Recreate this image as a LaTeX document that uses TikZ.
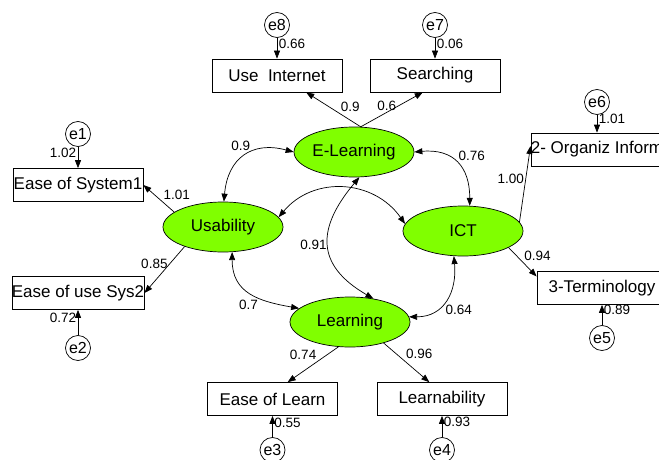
\documentclass[tikz,border=0pt]{standalone}
\usepackage{fontspec}
\setmainfont{Liberation Sans}
\usetikzlibrary{arrows.meta,shapes.geometric}
\definecolor{latentgreen}{RGB}{128,255,0}
\tikzset{latent/.style={ellipse,draw,fill=latentgreen,minimum width=120pt,
  minimum height=50pt,inner sep=0pt,font=\fontsize{17}{20}\selectfont},
 observed/.style={draw,minimum width=130pt,minimum height=33pt,inner sep=0pt,
  font=\fontsize{17}{20}\selectfont},
 errterm/.style={circle,draw,minimum size=25pt,inner sep=0pt,
  font=\fontsize{16}{18}\selectfont},
 regr/.style={-{Triangle[length=8pt,width=6pt]}},
 covar/.style={{Triangle[length=8pt,width=6pt]}-{Triangle[length=8pt,width=6pt]}},
 coef/.style={font=\fontsize{13.5}{16}\selectfont,inner sep=1.5pt}}

\begin{document}
\begin{tikzpicture}[x=1pt,y=1pt,line width=.7pt]
\useasboundingbox (0,0) rectangle (659,459);
% latent variables
\node[latent] (elearn) at (354,307) {E-Learning};
\node[latent] (usab) at (223,232) {Usability};
\node[latent] (ict) at (463,228) {ICT};
\node[latent] (learn) at (350,137) {Learning};
% measured variables
\node[observed] (useint) at (277,383.5) {Use~~Internet};
\node[observed] (search) at (435,383.5) {Searching};
\node[observed] (organiz) at (597,309.5) {2- Organiz Inform};
\node[observed] (termin) at (602,171) {3-Terminology};
\node[observed] (easesys) at (78,274) {Ease of System1};
\node[observed] (easeuse) at (78,166) {Ease of use Sys2};
\node[observed] (easelearn) at (272.5,60) {Ease of Learn};
\node[observed] (learnab) at (442,60) {Learnability};
% error terms
\node[errterm] (e1) at (78,325) {e1};
\node[errterm] (e2) at (78,111) {e2};
\node[errterm] (e3) at (272.5,9) {e3};
\node[errterm] (e4) at (442,9) {e4};
\node[errterm] (e5) at (602,121) {e5};
\node[errterm] (e6) at (597,357) {e6};
\node[errterm] (e7) at (435,434) {e7};
\node[errterm] (e8) at (277,434) {e8};
% loadings
\draw[regr] (elearn.75) -- node[coef,pos=.4,above right] {0.9} (useint.-30);
\draw[regr] (elearn.75) -- node[coef,pos=.42,above] {0.6} (search.-126);
\draw[regr] (usab.163) -- node[coef,pos=.4,above right] {1.01} (easesys.east);
\draw[regr] (usab.207) -- node[coef,pos=.38,left] {0.85} (easeuse.east);
\draw[regr] (ict.9) -- node[coef,pos=.57,left] {1.00} (organiz.177);
\draw[regr] (ict.-20) -- node[coef,pos=.5,above right] {0.94} (termin.170);
\draw[regr] (learn.245) -- node[coef,pos=.4,above left] {0.74} (easelearn.48);
\draw[regr] (learn.-32) -- node[coef,pos=.45,above right] {0.96} (learnab.127);
% error variances
\draw[regr] (e1) -- node[coef,pos=.3,left] {1.02} (easesys);
\draw[regr] (e2) -- node[coef,pos=.7,left] {0.72} (easeuse);
\draw[regr] (e3) -- node[coef,pos=.65,right] {0.55} (easelearn);
\draw[regr] (e4) -- node[coef,pos=.7,right] {0.93} (learnab);
\draw[regr] (e5) -- node[coef,pos=.73,right] {0.89} (termin);
\draw[regr] (e6) -- node[coef,pos=.2,right] {1.01} (organiz);
\draw[regr] (e7) -- node[coef,pos=.27,right] {0.06} (search);
\draw[regr] (e8) -- node[coef,pos=.27,right] {0.66} (useint);
% covariances between the factors
\draw[covar] (elearn.west) to[out=165,in=85,looseness=1.3]
  node[coef,pos=.4,above left] {0.9} (usab.88);
\draw[covar] (elearn.east) to[out=5,in=90,looseness=1.3]
  node[coef,pos=.5,above right] {0.76} (ict.75);
\draw[covar] (usab.-70) to[out=-90,in=170,looseness=1.2]
  node[coef,pos=.62,below left] {0.7} (learn.165);
\draw[covar] (ict.-110) to[out=-85,in=0,looseness=1.2]
  node[coef,pos=.55,below right] {0.64} (learn.5);
\draw[covar] (elearn.-78) to[out=-130,in=150,looseness=1.4]
  node[coef,pos=.5,left] {0.91} (learn.45);
\draw[covar] (usab.10) to[out=50,in=125,looseness=1.1] (ict.173);
\end{tikzpicture}
\end{document}
